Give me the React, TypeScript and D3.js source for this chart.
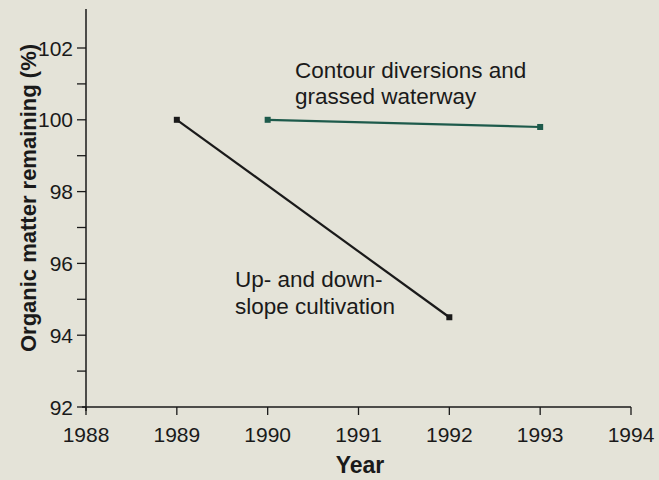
import React from "react";
import * as d3 from "d3";

const years = [1988, 1989, 1990, 1991, 1992, 1993, 1994];
const yTicks = [92, 94, 96, 98, 100, 102];
const yMinorTicks = [93, 95, 97, 99, 101];
const upDownYears = [1989, 1992];
const upDownValues = [100, 94.5];
const contourYears = [1990, 1993];
const contourValues = [100, 99.8];

const W = 659;
const H = 480;
const FONT = "'Liberation Sans', Arial, Helvetica, sans-serif";
const BG = "#e4e3d8";
const GREEN = "#1d5a4b";
const INK = "#1a1a1a";

export default function App() {
  const x = d3.scaleLinear().domain([1988, 1994]).range([86, 631]);
  const y = d3.scaleLinear().domain([92, 102]).range([407, 48]);
  const line = d3
    .line<[number, number]>()
    .x((d) => x(d[0]))
    .y((d) => y(d[1]));
  const upDown: [number, number][] = upDownYears.map((yr, i) => [yr, upDownValues[i]]);
  const contour: [number, number][] = contourYears.map((yr, i) => [yr, contourValues[i]]);
  const axisTop = 9;
  const ms = 6;

  return (
    <svg
      width={W}
      height={H}
      style={{ position: "absolute", left: 0, top: 0, background: BG }}
      fontFamily={FONT}
    >
      <rect x={0} y={0} width={W} height={H} fill={BG} />
      {/* y axis */}
      <line x1={x(1988)} x2={x(1988)} y1={axisTop} y2={y(92) + 4} stroke={INK} strokeWidth={1.5} />
      {yTicks.map((t) => (
        <g key={"yt" + t}>
          <line x1={x(1988) - 9} x2={x(1988)} y1={y(t)} y2={y(t)} stroke={INK} strokeWidth={1.3} />
          <text x={x(1988) - 13} y={y(t)} dy="0.36em" textAnchor="end" fontSize={21} fill={INK}>
            {t}
          </text>
        </g>
      ))}
      {yMinorTicks.map((t) => (
        <line key={"ym" + t} x1={x(1988) - 9} x2={x(1988)} y1={y(t)} y2={y(t)} stroke={INK} strokeWidth={1.3} />
      ))}
      {/* x axis */}
      <line x1={x(1988) - 4} x2={x(1994)} y1={y(92)} y2={y(92)} stroke={INK} strokeWidth={1.5} />
      {years.map((yr) => (
        <g key={"xt" + yr}>
          <line x1={x(yr)} x2={x(yr)} y1={y(92)} y2={y(92) + 8} stroke={INK} strokeWidth={1.3} />
          <text x={x(yr)} y={442} textAnchor="middle" fontSize={21} fill={INK}>
            {yr}
          </text>
        </g>
      ))}
      <text x={360} y={473} textAnchor="middle" fontSize={23} fontWeight="bold" fill={INK}>
        Year
      </text>
      <text
        transform={`translate(36, ${198}) rotate(-90)`}
        textAnchor="middle"
        fontSize={22}
        fontWeight="bold"
        fill={INK}
      >
        Organic matter remaining (%)
      </text>
      {/* series */}
      <path d={line(contour) || ""} fill="none" stroke={GREEN} strokeWidth={2.2} />
      {contour.map((d, i) => (
        <rect key={"cm" + i} x={x(d[0]) - ms / 2} y={y(d[1]) - ms / 2} width={ms} height={ms} fill={GREEN} />
      ))}
      <path d={line(upDown) || ""} fill="none" stroke={INK} strokeWidth={2.2} />
      {upDown.map((d, i) => (
        <rect key={"um" + i} x={x(d[0]) - ms / 2} y={y(d[1]) - ms / 2} width={ms} height={ms} fill={INK} />
      ))}
      {/* annotations */}
      <text x={295} y={78} fontSize={22.5} fill={INK}>
        Contour diversions and
      </text>
      <text x={295} y={104} fontSize={22.5} fill={INK}>
        grassed waterway
      </text>
      <text x={235} y={287} fontSize={22.5} fill={INK}>
        Up- and down-
      </text>
      <text x={235} y={314} fontSize={22.5} fill={INK}>
        slope cultivation
      </text>
    </svg>
  );
}
